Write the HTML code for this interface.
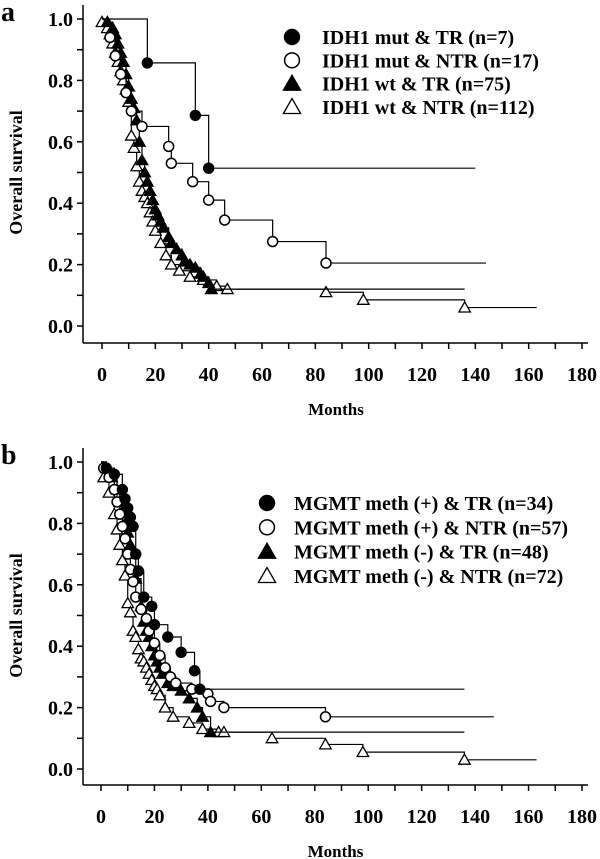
<!DOCTYPE html>
<html><head><meta charset="utf-8"><style>
body{margin:0;background:#fff}
svg{display:block;font-family:"Liberation Serif",serif;font-weight:bold}
</style></head><body>
<svg id="c" width="600" height="859"></svg>
<script>
const ticksX=[0,20,40,60,80,100,120,140,160,180];
const ticksY=[0.0,0.2,0.4,0.6,0.8,1.0];
// panel a
const aMutTR_t=[17,35,40]; const aMutTR_s=[0.857,0.686,0.514]; const aMutTR_end=140;
const aMutNTR_t=[3,5,7,9,11,15,25,26,34,40,46,64,84]; const aMutNTR_s=[0.94,0.88,0.82,0.76,0.70,0.65,0.585,0.53,0.47,0.41,0.345,0.275,0.205]; const aMutNTR_end=144;
const aWtTR_t=[2,4,5,6,7,8,9,10,11,12,13,14,15,16,17,18,19,20,21,22,23,25,26,28,30,31,33,35,37,38,40,41]; const aWtTR_s=[0.99,0.97,0.95,0.92,0.89,0.86,0.82,0.78,0.74,0.71,0.67,0.60,0.54,0.50,0.47,0.44,0.41,0.38,0.36,0.34,0.32,0.29,0.27,0.25,0.23,0.21,0.20,0.19,0.17,0.16,0.14,0.12]; const aWtTR_end=136;
const aWtNTR_t=[0,2,3,4,5,6,7,8,9,10,11,12,13,14,15,16,17,18,19,20,22,24,26,29,33,38,43,47,84,98,136]; const aWtNTR_s=[0.99,0.97,0.95,0.92,0.89,0.86,0.83,0.80,0.77,0.73,0.62,0.58,0.52,0.47,0.44,0.42,0.40,0.37,0.34,0.31,0.27,0.23,0.20,0.18,0.16,0.15,0.13,0.12,0.11,0.085,0.06]; const aWtNTR_end=163;
// panel b
const bPosTR_t=[2,5,8,9,10,11,12,13,14,16,19,20,25,30,35,37]; const bPosTR_s=[0.98,0.96,0.91,0.88,0.85,0.82,0.79,0.70,0.645,0.56,0.53,0.47,0.43,0.38,0.32,0.26]; const bPosTR_end=136;
const bPosNTR_t=[1,3,5,6,7,8,9,10,11,12,13,15,17,18,20,22,24,26,28,34,40,41,46,84]; const bPosNTR_s=[0.98,0.95,0.91,0.87,0.83,0.79,0.75,0.70,0.65,0.61,0.56,0.52,0.49,0.45,0.41,0.37,0.33,0.30,0.28,0.26,0.245,0.22,0.20,0.17]; const bPosNTR_end=147;
const bNegTR_t=[2,4,6,7,8,9,10,11,12,13,15,16,17,18,19,20,21,22,23,25,27,30,33,36,38,41]; const bNegTR_s=[0.98,0.95,0.91,0.87,0.84,0.80,0.77,0.73,0.70,0.62,0.53,0.48,0.45,0.43,0.40,0.37,0.35,0.33,0.31,0.28,0.27,0.255,0.23,0.20,0.17,0.12]; const bNegTR_end=136;
const bNegNTR_t=[1,3,5,6,7,8,9,10,11,12,13,14,15,16,17,18,19,20,21,22,24,27,33,38,44,46,64,84,98,136]; const bNegNTR_s=[0.95,0.90,0.83,0.78,0.73,0.68,0.63,0.54,0.51,0.45,0.43,0.39,0.36,0.35,0.33,0.31,0.29,0.27,0.26,0.24,0.20,0.17,0.15,0.13,0.12,0.12,0.10,0.08,0.055,0.03]; const bNegNTR_end=163;

const NS="http://www.w3.org/2000/svg";
const svg=document.getElementById('c');
function mk(tag,attrs,parent){const e=document.createElementNS(NS,tag);for(const k in attrs)e.setAttribute(k,attrs[k]);(parent||svg).appendChild(e);return e;}
function panel(P){
  const g=mk('g',{});
  
  
  const X=t=>P.x0+t*(P.x180-P.x0)/180, Y=s=>P.y0-s*(P.y0-P.y1);
  const ax=mk('g',{stroke:'#000','stroke-width':1.5,fill:'none'},g);
  
  
  mk('line',{x1:83,y1:P.y1-14,x2:83,y2:P.axY},ax);
  mk('line',{x1:83,y1:P.axY,x2:P.x180+6,y2:P.axY},ax);
  for(let v=0;v<=1.0001;v+=0.1){mk('line',{x1:77,x2:83,y1:Y(v),y2:Y(v)},ax);}
  for(let t=0;t<=180;t+=10){mk('line',{x1:X(t),x2:X(t),y1:P.axY,y2:P.axY+6},ax);}
  ticksY.forEach(v=>{const e=mk('text',{x:73,y:Y(v)+7,'text-anchor':'end','font-size':20},g);e.textContent=v.toFixed(1);
    });
  ticksX.forEach(v=>{const e=mk('text',{x:X(v),y:P.axY+38,'text-anchor':'middle','font-size':20},g);e.textContent=v;
    });
  let e=mk('text',{x:X(90)-6,y:P.axY+72,'text-anchor':'middle','font-size':17},g);e.textContent='Months';
  
  e=mk('text',{transform:`translate(22,${(P.y0+P.y1)/2}) rotate(-90)`,'text-anchor':'middle','font-size':18},g);e.textContent='Overall survival';
  
  e=mk('text',{x:1,y:P.y1+2,'font-size':28},g);e.textContent=P.letter;
  
  function marker(kind,x,y,par,sz){
    if(kind[0]==='c')mk('circle',{cx:x,cy:y,r:sz*0.62,fill:kind==='cf'?'#000':'#fff',stroke:'#000','stroke-width':1.5},par);
    else mk('polygon',{points:`${x},${y-sz*0.7} ${x-sz*0.72},${y+sz*0.55} ${x+sz*0.72},${y+sz*0.55}`,fill:kind==='tf'?'#000':'#fff',stroke:'#000','stroke-width':1.3},par);
  }
  P.series.forEach(S=>{
    const sg=mk('g',{},g);
    
    
    let d=`M${X(0)},${Y(1)}`;
    S.t.forEach((t,i)=>{d+=` H${X(t)} V${Y(S.s[i])}`;});
    d+=` H${X(S.end)}`;
    mk('path',{d,fill:'none',stroke:'#000','stroke-width':1.2},sg);
    S.t.forEach((t,i)=>marker(S.kind,X(t),Y(S.s[i]),sg,8));
  });
  P.legend.forEach((L,i)=>{
    const lg=mk('g',{},g);
    
    
    const y=P.ly+i*P.ldy;
    marker(L[0],P.lx,y,lg,12);
    const t=mk('text',{x:P.lx+P.lgap,y:y+7,'font-size':20},lg);t.textContent=L[1];
  });
}
panel({name:'panel-a',letter:'a',x0:102,x180:582,y0:326,y1:19,axY:343,lx:292,ly:37,ldy:23.3,lgap:30,
  series:[{name:'series-idh1-wt-ntr',t:aWtNTR_t,s:aWtNTR_s,end:aWtNTR_end,kind:'to'},
  {name:'series-idh1-wt-tr',t:aWtTR_t,s:aWtTR_s,end:aWtTR_end,kind:'tf'},
  {name:'series-idh1-mut-ntr',t:aMutNTR_t,s:aMutNTR_s,end:aMutNTR_end,kind:'co'},
  {name:'series-idh1-mut-tr',t:aMutTR_t,s:aMutTR_s,end:aMutTR_end,kind:'cf'}],
  legend:[['cf','IDH1 mut & TR (n=7)'],['co','IDH1 mut & NTR (n=17)'],['tf','IDH1 wt & TR (n=75)'],['to','IDH1 wt & NTR (n=112)']]});
panel({name:'panel-b',letter:'b',x0:101,x180:582,y0:769,y1:462,axY:785,lx:267,ly:503,ldy:24.3,lgap:27,
  series:[{name:'series-mgmt-neg-ntr',t:bNegNTR_t,s:bNegNTR_s,end:bNegNTR_end,kind:'to'},
  {name:'series-mgmt-neg-tr',t:bNegTR_t,s:bNegTR_s,end:bNegTR_end,kind:'tf'},
  {name:'series-mgmt-pos-ntr',t:bPosNTR_t,s:bPosNTR_s,end:bPosNTR_end,kind:'co'},
  {name:'series-mgmt-pos-tr',t:bPosTR_t,s:bPosTR_s,end:bPosTR_end,kind:'cf'}],
  legend:[['cf','MGMT meth (+) & TR (n=34)'],['co','MGMT meth (+) & NTR (n=57)'],['tf','MGMT meth (-) & TR (n=48)'],['to','MGMT meth (-) & NTR (n=72)']]});
</script>
</body></html>
